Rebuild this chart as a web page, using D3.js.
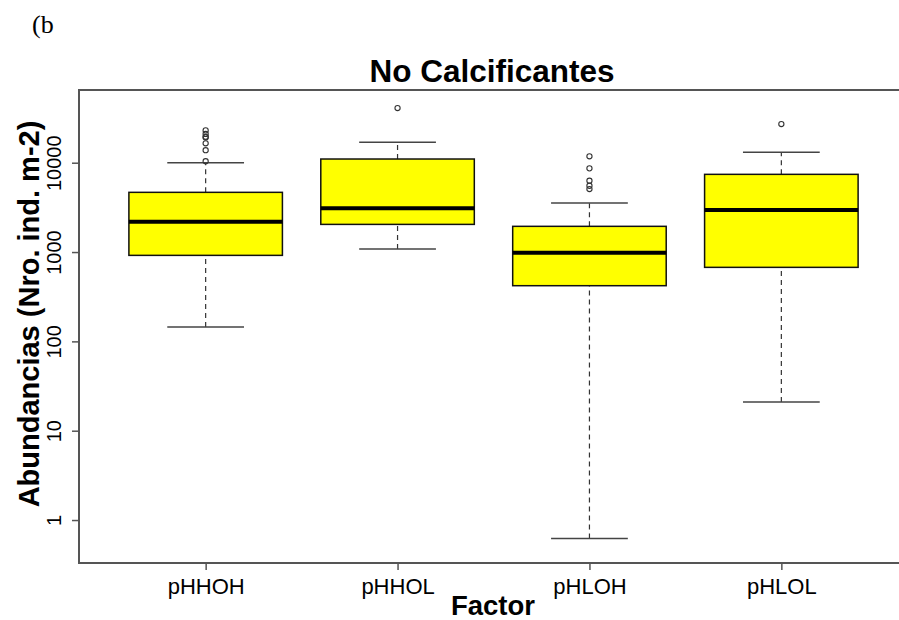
<!DOCTYPE html>
<html>
<head>
<meta charset="utf-8">
<script src="https://cdn.jsdelivr.net/npm/d3@7"></script>
<style>
  html, body { margin: 0; padding: 0; background: #fff; }
  svg { display: block; }
</style>
</head>
<body>
<svg id="chart" width="899" height="620"></svg>
<script>
// Treatment groups
const categories = ["pHHOH", "pHHOL", "pHLOH", "pHLOL"];
// Box statistics per group (individuals per m²)
const whiskerLow = [145, 1080, 0.62, 21];
const q1 = [918, 2040, 420, 674];
const medians = [2185, 3085, 982, 2950];
const q3 = [4660, 11000, 1940, 7410];
const whiskerHigh = [10000, 17000, 3540, 13060];
// Points beyond the whiskers
const outliers = [
  [23000, 21000, 19500, 19200, 16500, 13800, 10400],
  [40900],
  [11800, 8650, 6290, 5520, 5070],
  [27100]
];
const yTicks = [1, 10, 100, 1000, 10000];

const svg = d3.select("#chart");
const plot = { left: 79, right: 908, top: 90, bottom: 563 };

const x = d3.scalePoint()
  .domain(categories)
  .range([plot.left, plot.right])
  .padding(0.66);
const step = x.step();
const boxW = step * 0.8;

const y = d3.scaleLog()
  .domain([Math.pow(10, -0.481), Math.pow(10, 4.814)])
  .range([plot.bottom, plot.top]);

const sans = "'Liberation Sans', Arial, sans-serif";

// Panel tag
svg.append("text")
  .attr("x", 32).attr("y", 33)
  .attr("font-family", "'Liberation Serif', 'Times New Roman', serif")
  .attr("font-size", 26)
  .text("(b");

// Title
svg.append("text")
  .attr("x", 492).attr("y", 82)
  .attr("text-anchor", "middle")
  .attr("font-family", sans)
  .attr("font-weight", "bold")
  .attr("font-size", 31.5)
  .text("No Calcificantes");

const groups = svg.append("g").selectAll("g")
  .data(categories)
  .join("g")
  .attr("transform", d => `translate(${x(d)},0)`);

// Dashed whiskers
groups.append("line")
  .attr("y1", (d, i) => y(whiskerLow[i]))
  .attr("y2", (d, i) => y(q1[i]))
  .attr("stroke", "#333").attr("stroke-width", 1.2)
  .attr("stroke-dasharray", "5,4");
groups.append("line")
  .attr("y1", (d, i) => y(q3[i]))
  .attr("y2", (d, i) => y(whiskerHigh[i]))
  .attr("stroke", "#333").attr("stroke-width", 1.2)
  .attr("stroke-dasharray", "5,4");

// Whisker caps
groups.append("line")
  .attr("x1", -boxW / 4).attr("x2", boxW / 4)
  .attr("y1", (d, i) => y(whiskerLow[i])).attr("y2", (d, i) => y(whiskerLow[i]))
  .attr("stroke", "#444").attr("stroke-width", 1.5);
groups.append("line")
  .attr("x1", -boxW / 4).attr("x2", boxW / 4)
  .attr("y1", (d, i) => y(whiskerHigh[i])).attr("y2", (d, i) => y(whiskerHigh[i]))
  .attr("stroke", "#444").attr("stroke-width", 1.5);

// Boxes
groups.append("rect")
  .attr("x", -boxW / 2).attr("width", boxW)
  .attr("y", (d, i) => y(q3[i]))
  .attr("height", (d, i) => y(q1[i]) - y(q3[i]))
  .attr("fill", "#ffff00")
  .attr("stroke", "#111").attr("stroke-width", 1.5);

// Medians
groups.append("line")
  .attr("x1", -boxW / 2).attr("x2", boxW / 2)
  .attr("y1", (d, i) => y(medians[i])).attr("y2", (d, i) => y(medians[i]))
  .attr("stroke", "#000").attr("stroke-width", 4);

// Outliers
groups.each(function (d, i) {
  d3.select(this).selectAll("circle")
    .data(outliers[i])
    .join("circle")
    .attr("cx", 0)
    .attr("cy", v => y(v))
    .attr("r", 2.6)
    .attr("fill", "none")
    .attr("stroke", "#333").attr("stroke-width", 1.1);
});

// Frame
svg.append("rect")
  .attr("x", plot.left).attr("y", plot.top)
  .attr("width", plot.right - plot.left)
  .attr("height", plot.bottom - plot.top)
  .attr("fill", "none")
  .attr("stroke", "#555").attr("stroke-width", 2);

// Y axis
const yAxis = svg.append("g")
  .attr("transform", `translate(${plot.left},0)`)
  .call(d3.axisLeft(y).tickValues(yTicks).tickFormat(d3.format("d")).tickSize(7).tickPadding(0));
yAxis.select(".domain").remove();
yAxis.selectAll(".tick line").attr("stroke", "#555").attr("stroke-width", 1.5);
yAxis.selectAll(".tick text")
  .attr("font-family", sans).attr("font-size", 20).attr("fill", "#000")
  .attr("transform", "translate(-18,0) rotate(-90)")
  .attr("x", 0).attr("dy", 0)
  .attr("text-anchor", "middle");

// X axis
const xAxis = svg.append("g")
  .attr("transform", `translate(0,${plot.bottom})`)
  .call(d3.axisBottom(x).tickSize(7).tickPadding(8));
xAxis.select(".domain").remove();
xAxis.selectAll(".tick line").attr("stroke", "#555").attr("stroke-width", 1.5);
xAxis.selectAll(".tick text")
  .attr("font-family", sans).attr("font-size", 22).attr("fill", "#000");

// Axis titles
svg.append("text")
  .attr("x", 493).attr("y", 615)
  .attr("text-anchor", "middle")
  .attr("font-family", sans).attr("font-weight", "bold").attr("font-size", 27.5)
  .text("Factor");

svg.append("text")
  .attr("transform", "translate(39,314) rotate(-90)")
  .attr("text-anchor", "middle")
  .attr("font-family", sans).attr("font-weight", "bold").attr("font-size", 29)
  .text("Abundancias (Nro. ind. m-2)");
</script>
</body>
</html>
